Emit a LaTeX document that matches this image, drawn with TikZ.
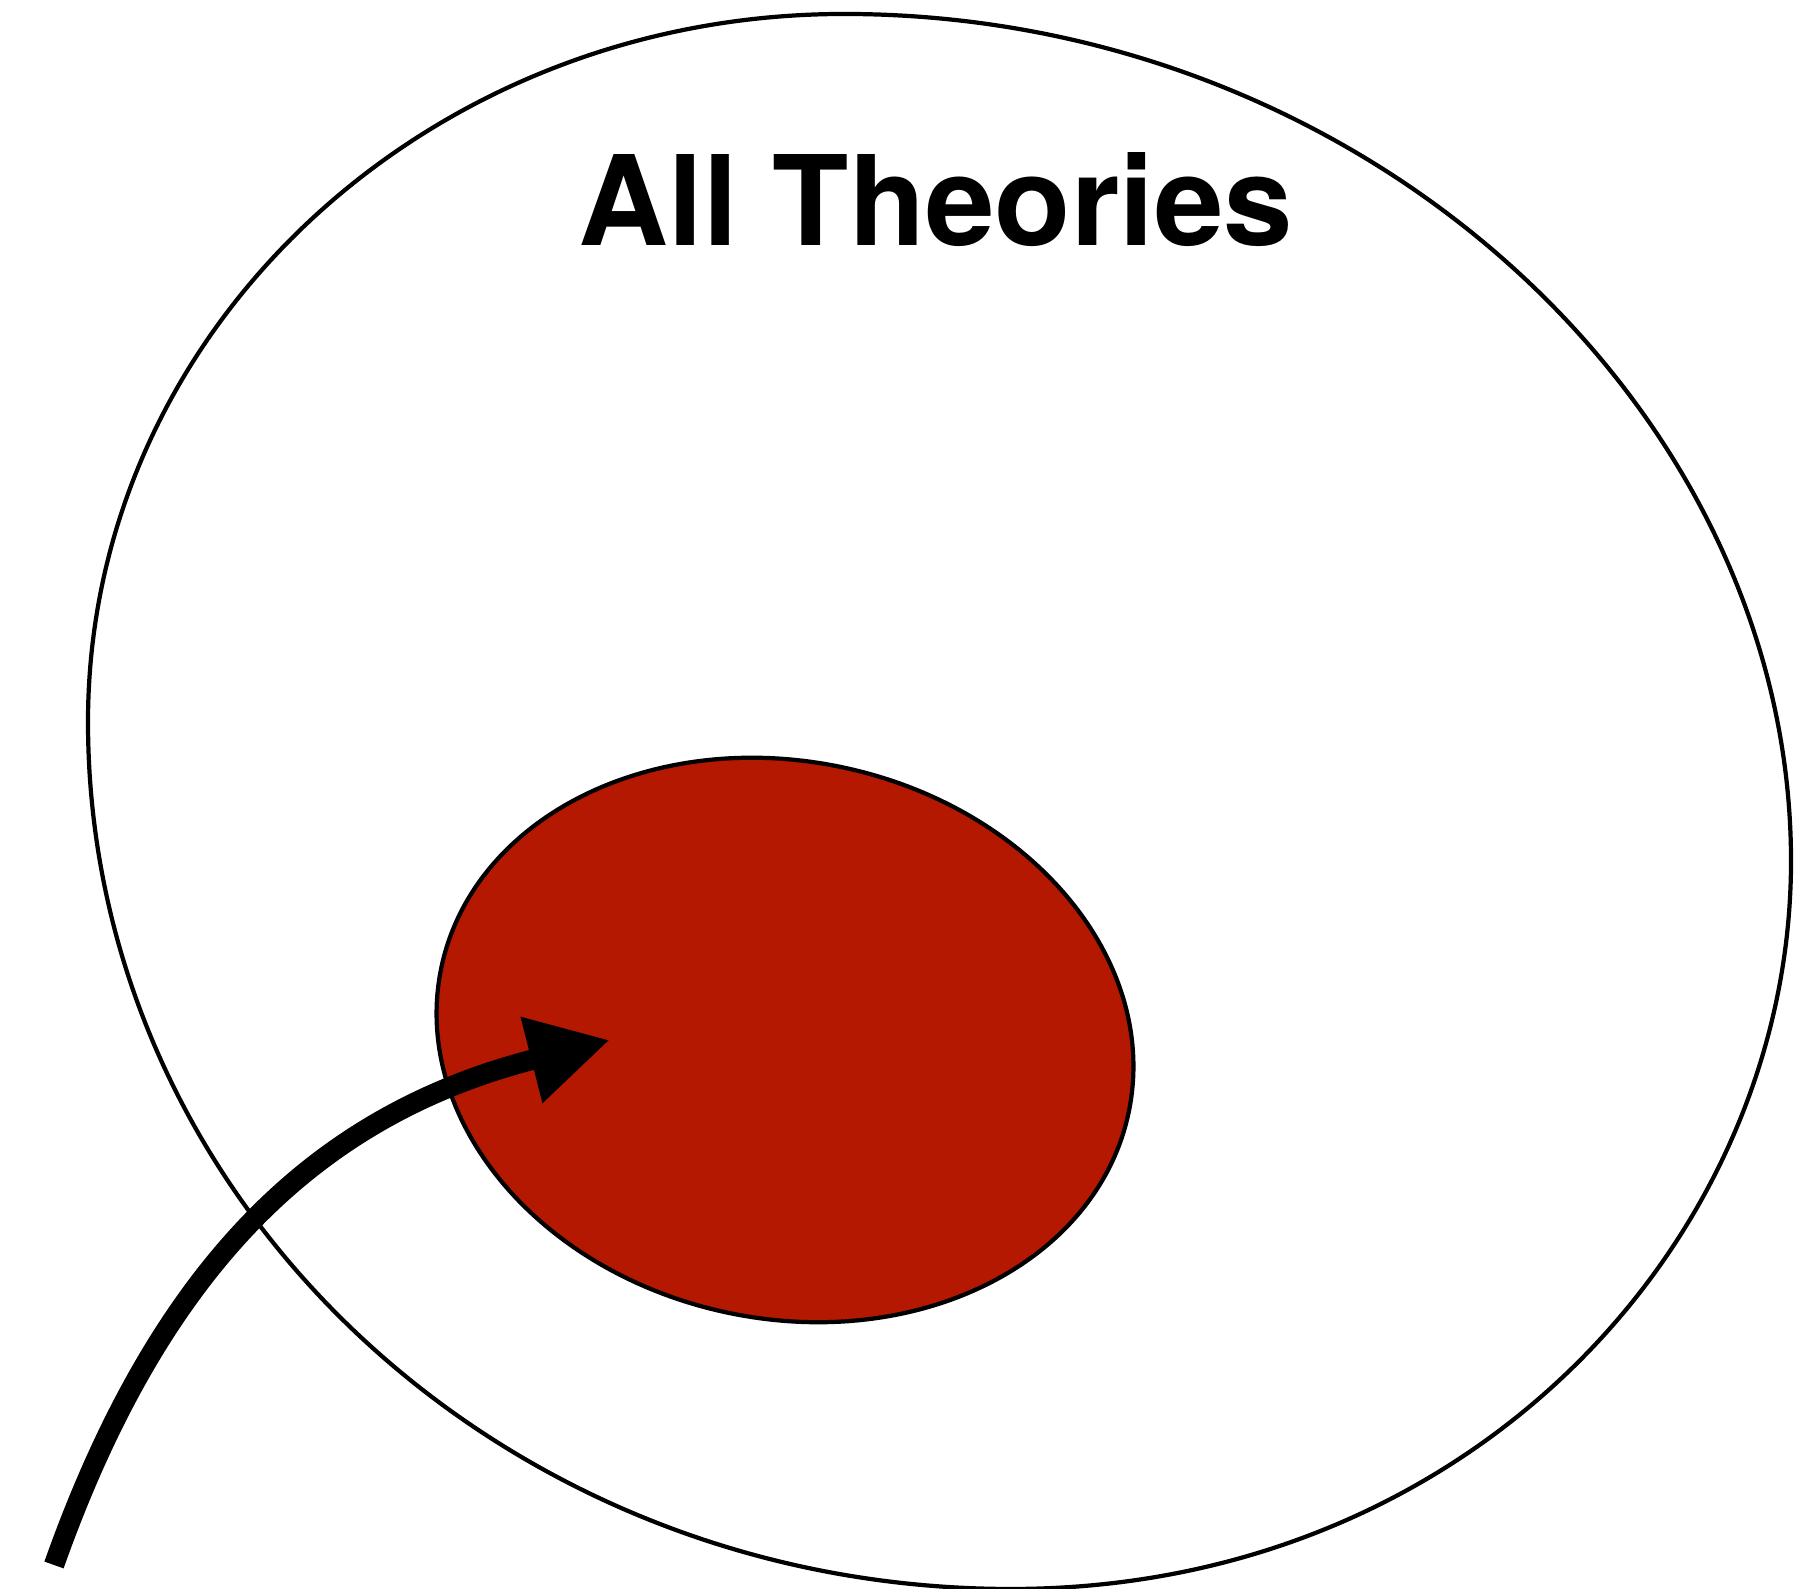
\documentclass[tikz,border=0pt]{standalone}
\usepackage{fontspec}
\setmainfont{TeX Gyre Heros}
\usetikzlibrary{arrows.meta,shapes.geometric}
\definecolor{subsetred}{RGB}{181,24,0}
\tikzset{
  boundary/.style={line width=1.2pt, black},
  subset/.style={ellipse, draw=black, line width=1.2pt, fill=subsetred, inner sep=0pt},
  pointer/.style={line width=5.8pt, -{Triangle[length=0.81cm, width=0.83cm]}},
}
\begin{document}
\begin{tikzpicture}[x=0.01cm, y=0.01cm]
  \useasboundingbox (0,0) rectangle (1812,1589);
  % all theories
  \draw[boundary] (844,1575) .. controls (427,1575) and (88,1259) .. (88,867)
    .. controls (88,389) and (501,0) .. (1011,0)
    .. controls (1470,0) and (1791,349) .. (1791,728)
    .. controls (1791,1179) and (1367,1575) .. (844,1575) -- cycle;
  \node[font=\bfseries\fontsize{35.5}{40}\selectfont, anchor=base] (title) at (936,1343) {All Theories};
  % the subset
  \node[subset, minimum width=7.02cm, minimum height=5.57cm, rotate=-12] (inner) at (785,549) {};
  % arrow into it
  \coordinate (tail) at (54,24);
  \coordinate (tip) at (610,549);
  \draw[pointer] (tail) .. controls (161,326) and (319,475) .. (tip);
\end{tikzpicture}
\end{document}
